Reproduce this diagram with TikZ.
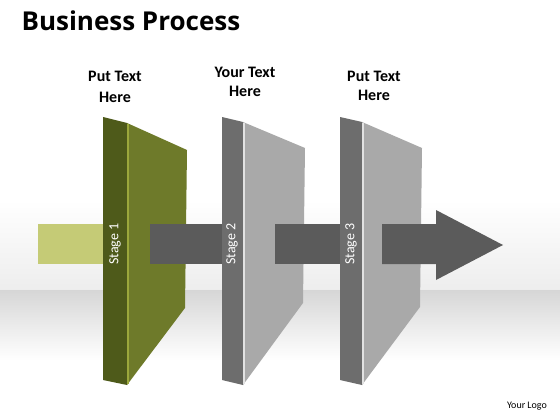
\documentclass[tikz,border=0pt]{standalone}
\usepackage{fontspec}
\setmainfont{Carlito}
\newfontfamily\titlefont{Open Sans}
\definecolor{olivedark}{HTML}{4E5A1A}
\definecolor{oliveface}{HTML}{6E7A2A}
\definecolor{olivehl}{HTML}{9CA83C}
\definecolor{olivelight}{HTML}{C5CB76}
\definecolor{graystrip}{HTML}{6D6D6D}
\definecolor{grayface}{HTML}{A9A9A9}
\definecolor{grayhl}{HTML}{E2E2E2}
\definecolor{arrowgray}{HTML}{5B5B5B}
\begin{document}
\begin{tikzpicture}[x=1pt,y=-1pt,
  lbl/.style={align=center, text=black},
  stagetxt/.style={font=\fontsize{14}{16}\selectfont, text=white, rotate=90},
  bar/.style={fill=arrowgray}]
\useasboundingbox (0,0) rectangle (560,420);
\fill[white] (0,0) rectangle (560,420);
\fill[top color=white,bottom color=gray!14] (0,200) rectangle (560,290);
\fill[top color=gray!32,bottom color=white] (0,290) rectangle (560,360);

\node[anchor=base west, font=\titlefont\bfseries\fontsize{26}{30}\selectfont] (title) at (18,31) {Business Process};

\node[lbl, font=\bfseries\fontsize{16}{21}\selectfont] (l1) at (115,87) {Put Text\\Here};
\node[lbl, font=\bfseries\fontsize{16}{19}\selectfont] (l2) at (245,82) {Your Text\\Here};
\node[lbl, font=\bfseries\fontsize{16}{19}\selectfont] (l3) at (374,86) {Put Text\\Here};

% input bar
\fill[olivelight] (38,224) rectangle (103,264);

% panel 1
\fill[olivedark] (103,117) -- (127,123) -- (127,385) -- (103,380) -- cycle;
\fill[oliveface] (127,123) -- (187,150) -- (185,308) -- (127,385) -- cycle;
\draw[olivehl, line width=1.5] (128,124) -- (128,384);
\node[stagetxt] (s1) at (115,244) {Stage 1};

% bar 1
\fill[bar] (150,224) rectangle (222,264);

% panel 2
\fill[graystrip] (222,117) -- (243,122) -- (243,385) -- (222,380) -- cycle;
\fill[grayface] (243,122) -- (305,148) -- (303,303) -- (243,385) -- cycle;
\draw[grayhl, line width=1.5] (244,123) -- (244,384);
\node[stagetxt] (s2) at (232,244) {Stage 2};

% bar 2
\fill[bar] (275,224) rectangle (340,264);

% panel 3
\fill[graystrip] (340,117) -- (362,122) -- (362,385) -- (340,380) -- cycle;
\fill[grayface] (362,122) -- (422,148) -- (420,307) -- (362,385) -- cycle;
\draw[grayhl, line width=1.5] (363,123) -- (363,384);
\node[stagetxt] (s3) at (351,244) {Stage 3};

% final arrow
\fill[bar] (382,224) -- (436,224) -- (436,210) -- (503,245) -- (436,280) -- (436,264) -- (382,264) -- cycle;

\node[font=\fontsize{10}{12}\selectfont] (logo) at (527,406) {Your Logo};
\end{tikzpicture}
\end{document}
